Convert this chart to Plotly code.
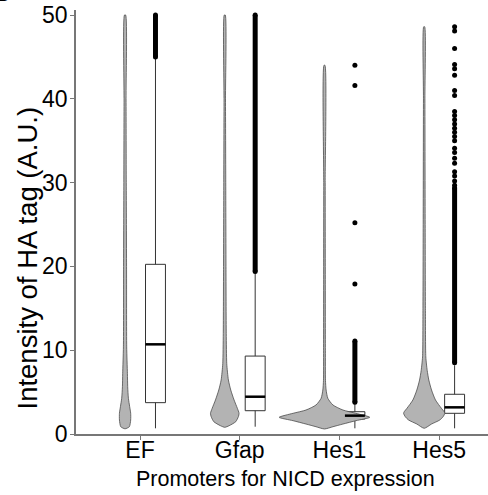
import plotly.graph_objects as go

# ---------------- data ----------------
categories = ["EF", "Gfap", "Hes1", "Hes5"]

# box statistics per category
box_lower = [0.68, 0.87, 0.68, 0.68]
box_q1 = [3.74, 2.78, 1.79, 2.47]
box_median = [10.7, 4.45, 2.19, 3.18]
box_q3 = [20.25, 9.3, 2.66, 4.74]
box_upper = [44.8, 19.2, 3.6, 8.2]

# violin density profiles (y level, relative density)
ef_violin_y = [0.62, 0.87, 1.67, 2.47, 3.26, 4.26, 5.65, 7.24, 10.4, 20, 30, 40, 50.0]
ef_violin_d = [0.0, 0.095, 0.124, 0.124, 0.102, 0.074, 0.058, 0.052, 0.036, 0.033, 0.027, 0.022, 0.013]
gfap_violin_y = [0.8, 0.99, 1.47, 2.07, 2.47, 3.06, 4.06, 5.25, 6.44, 8.4, 12, 20, 30, 40, 50.0]
gfap_violin_d = [0.0, 0.096, 0.242, 0.3, 0.315, 0.278, 0.205, 0.132, 0.08, 0.044, 0.033, 0.027, 0.022, 0.016, 0.011]
hes1_violin_y = [0.6, 0.87, 1.19, 1.59, 1.99, 2.47, 2.86, 3.46, 4.26, 5.25, 6.4, 10, 20, 30, 44.0]
hes1_violin_d = [0.0, 0.187, 0.407, 0.692, 1.0, 0.692, 0.407, 0.187, 0.074, 0.036, 0.022, 0.02, 0.018, 0.016, 0.011]
hes5_violin_y = [0.68, 1.19, 1.67, 2.07, 2.47, 2.66, 3.06, 4.06, 5.25, 6.44, 7.6, 9.2, 15, 25, 40, 48.6]
hes5_violin_d = [0.0, 0.162, 0.344, 0.418, 0.454, 0.44, 0.381, 0.249, 0.162, 0.102, 0.066, 0.036, 0.027, 0.022, 0.016, 0.011]

# outliers: dense runs (low, high) and isolated points
ef_outlier_run = [45.0, 50.0]
gfap_outlier_run = [19.4, 50.0]
hes1_outlier_run = [3.8, 11.1]
hes1_outliers = [17.9, 25.2, 41.6, 44.0]
hes5_outlier_run = [8.5, 29.4]
hes5_outliers = [48.6, 48.1, 46.0, 44.1, 43.6, 42.8, 41.0, 40.4, 38.5, 38.0, 37.5,
                 37.0, 36.5, 36.0, 35.5, 35.0, 34.1, 33.6, 32.9, 32.3, 31.3, 30.8,
                 30.2, 29.7]

y_ticks = [0, 10, 20, 30, 40, 50]

# ---------------- style ----------------
VIOLIN_OFFSET = -0.15
BOX_OFFSET = 0.155
BOX_WIDTH = 0.2
VIOLIN_MAX_WIDTH = 0.91
FONT = "Liberation Sans, Arial, sans-serif"

fig = go.Figure()

violins = [(ef_violin_y, ef_violin_d), (gfap_violin_y, gfap_violin_d),
           (hes1_violin_y, hes1_violin_d), (hes5_violin_y, hes5_violin_d)]
for i, (vy, vd) in enumerate(violins):
    c = i + VIOLIN_OFFSET
    half = [d * VIOLIN_MAX_WIDTH / 2 for d in vd]
    xs = [c - h for h in half] + [c + h for h in reversed(half)]
    ys = list(vy) + list(reversed(vy))
    fig.add_trace(go.Scatter(
        x=xs, y=ys, mode="lines", fill="toself",
        fillcolor="#b3b3b3", line=dict(color="#4d4d4d", width=0.8, shape="spline", smoothing=0.6),
        hoverinfo="skip", showlegend=False))

box_x = [i + BOX_OFFSET for i in range(len(categories))]
fig.add_trace(go.Box(
    x=box_x, q1=box_q1, median=box_median, q3=box_q3,
    lowerfence=box_lower, upperfence=box_upper,
    width=BOX_WIDTH, whiskerwidth=0, boxpoints=False,
    fillcolor="white", line=dict(color="#333333", width=1),
    showlegend=False, hoverinfo="skip"))

# thicker median lines
for i, m in enumerate(box_median):
    fig.add_trace(go.Scatter(
        x=[box_x[i] - BOX_WIDTH / 2, box_x[i] + BOX_WIDTH / 2], y=[m, m],
        mode="lines", line=dict(color="black", width=2.5),
        hoverinfo="skip", showlegend=False))

# outliers
runs = [ef_outlier_run, gfap_outlier_run, hes1_outlier_run, hes5_outlier_run]
for i, r in enumerate(runs):
    fig.add_trace(go.Scatter(
        x=[box_x[i], box_x[i]], y=r, mode="lines+markers",
        line=dict(color="black", width=5), marker=dict(color="black", size=5),
        hoverinfo="skip", showlegend=False))
for i, pts in [(2, hes1_outliers), (3, hes5_outliers)]:
    fig.add_trace(go.Scatter(
        x=[box_x[i]] * len(pts), y=pts, mode="markers",
        marker=dict(color="black", size=5),
        hoverinfo="skip", showlegend=False))

L, R, T, B = 76, 0, 10, 61
W, H = 488, 495
pw, ph = W - L - R, H - T - B

fig.update_layout(
    width=W, height=H,
    margin=dict(l=L, r=R, t=T, b=B, pad=0),
    paper_bgcolor="white", plot_bgcolor="white",
    font=dict(family=FONT, color="black"),
    xaxis=dict(
        range=[-0.642, 3.49], tickmode="array",
        tickvals=list(range(len(categories))), ticktext=categories,
        showgrid=False, zeroline=False, showline=True,
        linecolor="#777777", linewidth=1.5,
        ticks="outside", ticklen=4, tickcolor="#777777", tickwidth=1,
        ticklabelstandoff=-9,
        tickfont=dict(size=23, color="black", family=FONT)),
    yaxis=dict(
        range=[0, 50.6], tickvals=y_ticks,
        showgrid=False, zeroline=False, showline=True,
        linecolor="#777777", linewidth=1.5,
        ticks="outside", ticklen=4, tickcolor="#777777", tickwidth=1,
        ticklabelstandoff=-2,
        tickfont=dict(size=23, color="black", family=FONT)),
    annotations=[
        dict(text="Intensity of HA tag (A.U.)", textangle=-90,
             xref="paper", yref="paper", x=(27 - L) / pw, y=(434 - 258.5) / ph,
             xanchor="center", yanchor="middle", showarrow=False,
             font=dict(size=27.5, family=FONT, color="black")),
        dict(text="Promoters for NICD expression",
             xref="paper", yref="paper", x=(285 - L) / pw, y=(434 - 479) / ph,
             xanchor="center", yanchor="middle", showarrow=False,
             font=dict(size=21.5, family=FONT, color="black")),
        dict(text="<b>B</b>",
             xref="paper", yref="paper", x=(13 - L) / pw, y=(434 - 9) / ph,
             xanchor="right", yanchor="bottom", showarrow=False,
             font=dict(size=26, family=FONT, color="black")),
    ],
)

fig.write_html(
    "out.html",
    config={"displayModeBar": False},
    post_script="document.body.style.margin='0';document.body.style.overflow='hidden';",
)
